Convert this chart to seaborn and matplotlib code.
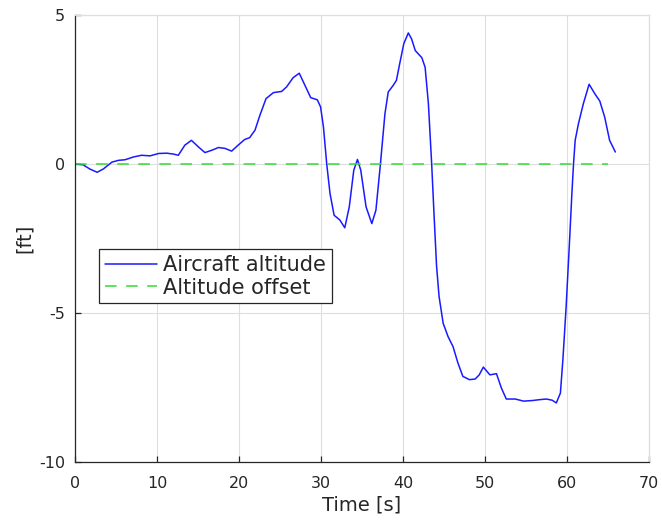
import matplotlib
matplotlib.use("Agg")
import matplotlib.pyplot as plt
import seaborn as sns
import pandas as pd

# Flight record: time in seconds, altitude deviation in feet
time_s = [0.0, 1.0, 1.8, 2.7, 3.45, 4.5, 5.3, 6.1, 7.1, 8.1, 9.15, 10.2, 11.2,
          12.0, 12.6, 13.4, 14.2, 15.05, 15.85, 16.7, 17.5, 18.3, 19.1, 19.9,
          20.7, 21.3, 21.95, 22.55, 23.3, 24.2, 25.2, 25.8, 26.6, 27.35,
          28.05, 28.75, 29.55, 29.95, 30.3, 30.7, 31.1, 31.6, 32.3, 32.9,
          33.45, 34.0, 34.45, 34.85, 35.5, 36.2, 36.7, 37.25, 37.8, 38.2,
          38.8, 39.2, 39.6, 40.1, 40.65, 41.05, 41.5, 42.3, 42.7, 43.1, 43.5,
          43.8, 44.1, 44.4, 44.9, 45.5, 46.1, 46.7, 47.3, 48.1, 48.8, 49.3,
          49.8, 50.6, 51.4, 52.0, 52.6, 53.7, 54.7, 55.8, 56.7, 57.5, 58.2,
          58.7, 59.2, 59.5, 59.9, 60.3, 60.6, 60.8, 61.0, 61.4, 62.0, 62.7,
          63.4, 64.0, 64.6, 65.2, 65.9]
altitude_ft = [0.0, -0.03, -0.17, -0.28, -0.17, 0.06, 0.12, 0.14, 0.23, 0.29,
               0.27, 0.35, 0.36, 0.33, 0.29, 0.63, 0.79, 0.57, 0.38, 0.46,
               0.55, 0.52, 0.43, 0.63, 0.82, 0.88, 1.13, 1.63, 2.19, 2.39,
               2.43, 2.58, 2.89, 3.04, 2.63, 2.22, 2.15, 1.91, 1.24, 0.0,
               -0.99, -1.72, -1.88, -2.14, -1.44, -0.21, 0.15, -0.21, -1.44,
               -2.0, -1.55, 0.0, 1.68, 2.41, 2.63, 2.80, 3.36, 4.03, 4.39,
               4.19, 3.80, 3.56, 3.24, 2.02, 0.0, -1.77, -3.44, -4.44, -5.34,
               -5.79, -6.12, -6.67, -7.12, -7.23, -7.21, -7.07, -6.81, -7.07,
               -7.03, -7.51, -7.88, -7.88, -7.95, -7.93, -7.90, -7.88, -7.92,
               -8.01, -7.68, -6.57, -4.78, -2.66, -0.99, 0.0, 0.79, 1.35,
               2.02, 2.67, 2.35, 2.11, 1.57, 0.79, 0.40]

offset_time = [0.0, 65.0]
offset_ft = [0.0, 0.0]

x_ticks = [0, 10, 20, 30, 40, 50, 60, 70]
y_ticks = [-10, -5, 0, 5]

sns.set_theme(style="whitegrid")
plt.rcParams.update({
    "font.family": ["DejaVu Sans"],
    "axes.unicode_minus": False,
})

fig = plt.figure(figsize=(6.62, 5.21), dpi=100)
ax = fig.add_axes([0.1133, 0.1127, 0.8670, 0.8590])

alt_df = pd.DataFrame({"t": time_s, "h": altitude_ft})
off_df = pd.DataFrame({"t": offset_time, "h": offset_ft})

sns.lineplot(data=alt_df, x="t", y="h", ax=ax, color="#1a1aff", linewidth=1.1,
             label="Aircraft altitude", sort=False)
sns.lineplot(data=off_df, x="t", y="h", ax=ax, color="#33dd33", linewidth=1.1,
             linestyle=(0, (7.6, 6.2)), label="Altitude offset")

ax.set_xlim(0, 70)
ax.set_ylim(-10, 5)
ax.set_xticks(x_ticks)
ax.set_yticks(y_ticks)
ax.set_xlabel("Time [s]", fontsize=14, color="#262626", labelpad=3)
ax.set_ylabel("[ft]", fontsize=14, color="#262626", labelpad=4)
ax.set_facecolor("white")
ax.grid(True, color="#dedede", linewidth=0.8)

for side in ("left", "bottom"):
    ax.spines[side].set_color("#262626")
    ax.spines[side].set_linewidth(0.9)
for side in ("top", "right"):
    ax.spines[side].set_color("#dedede")
    ax.spines[side].set_linewidth(0.9)

ax.tick_params(axis="x", direction="in", length=4, width=0.9,
               colors="#262626", labelsize=11.5, bottom=True, pad=10)
ax.tick_params(axis="y", direction="in", length=4, width=0.9,
               colors="#262626", labelsize=11.5, left=True, pad=7)

leg = ax.legend(loc="upper left", bbox_to_anchor=(0.0423, 0.476),
                fontsize=15, frameon=True, fancybox=False,
                handlelength=2.5, handletextpad=0.3, borderpad=0.28,
                labelspacing=0.12, borderaxespad=0)
leg.get_frame().set_edgecolor("#262626")
leg.get_frame().set_linewidth(0.9)
leg.get_frame().set_alpha(1.0)

fig.savefig("out.png", dpi=100)
